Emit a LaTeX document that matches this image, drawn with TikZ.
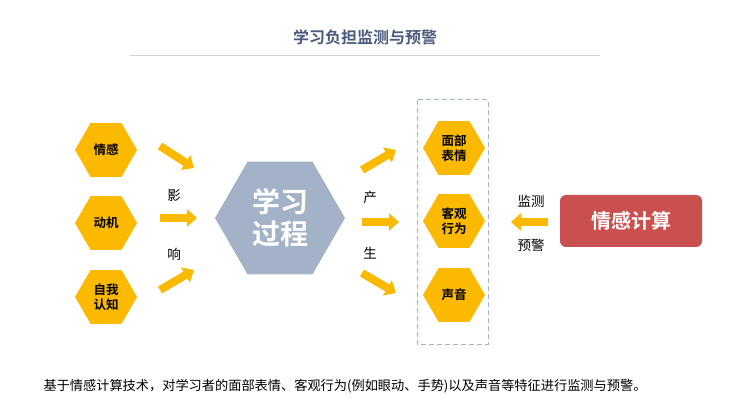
\documentclass[tikz,border=0pt]{standalone}
\usepackage{fontspec}
\newfontfamily\cjk{Noto Sans CJK SC}
\newfontfamily\cjkb{Noto Sans CJK SC Bold}
\usetikzlibrary{shapes.geometric,arrows.meta}
\definecolor{yel}{HTML}{FBB900}
\definecolor{hexg}{HTML}{A3B2C6}
\definecolor{redb}{HTML}{C9504E}
\definecolor{ttl}{HTML}{4A5A7C}
\begin{document}
\begin{tikzpicture}[x=1pt,y=-1pt,
  hex/.style={regular polygon,regular polygon sides=6,shape border rotate=0,fill=yel,draw=none,inner sep=0pt,minimum size=62pt,font=\cjkb\fontsize{12.5}{15}\selectfont,align=center,text=black},
  arr/.style={draw=yel,line width=8pt,-{Triangle[length=10pt,width=17pt]}},
  lbl/.style={font=\cjk\fontsize{13.5}{15}\selectfont}]
\useasboundingbox (0,0) rectangle (730,411);
\node[font=\cjkb\fontsize{16}{18}\selectfont,text=ttl] (t) at (365,37) {学习负担监测与预警};
\draw[gray!35,line width=0.6pt] (130,55) -- (600,55);
\node[hex] (a) at (106,150) {情感};
\node[hex] (b) at (106,223) {动机};
\node[hex] (c) at (106,297) {自我\\认知};
\node[regular polygon,regular polygon sides=6,fill=hexg,minimum size=130pt,inner sep=0pt,font=\cjkb\fontsize{28}{32}\selectfont,text=white,align=center] (p) at (280,218) {学习\\过程};
\coordinate (a1) at (160,146); \coordinate (a2) at (194,168);
\coordinate (b1) at (160,218); \coordinate (b2) at (197,218);
\coordinate (c1) at (160,290); \coordinate (c2) at (194,270);
\draw[arr] (a1) -- (a2); \draw[arr] (b1) -- (b2); \draw[arr] (c1) -- (c2);
\node[lbl] (y1) at (174,195) {影};
\node[lbl] (y2) at (174,254) {响};
\draw[dashed,draw=hexg,line width=1pt,dash pattern=on 5pt off 3pt] (417,100) rectangle (488,344);
\node[hex] (f) at (454,148) {面部\\表情};
\node[hex] (g) at (454,221) {客观\\行为};
\node[hex] (h) at (454,295) {声音};
\coordinate (d1) at (362,170); \coordinate (d2) at (396,150);
\coordinate (e1) at (362,222); \coordinate (e2) at (399,222);
\coordinate (k1) at (362,273); \coordinate (k2) at (396,293);
\draw[arr] (d1) -- (d2); \draw[arr] (e1) -- (e2); \draw[arr] (k1) -- (k2);
\node[lbl] (s1) at (370,197) {产};
\node[lbl] (s2) at (370,253) {生};
\node[fill=redb,rounded corners=6pt,minimum width=142pt,minimum height=52pt,text=white,font=\cjkb\fontsize{20}{22}\selectfont] (r) at (631,221) {情感计算};
\coordinate (m1) at (548,222); \coordinate (m2) at (511,222);
\draw[arr] (m1) -- (m2);
\node[lbl] (j1) at (531,201) {监测};
\node[lbl] (j2) at (531,245) {预警};
\node[anchor=west,font=\cjk\fontsize{13.2}{15}\selectfont] (bt) at (40,386) {基于情感计算技术，对学习者的面部表情、客观行为(例如眼动、手势)以及声音等特征进行监测与预警。};
\end{tikzpicture}
\end{document}
